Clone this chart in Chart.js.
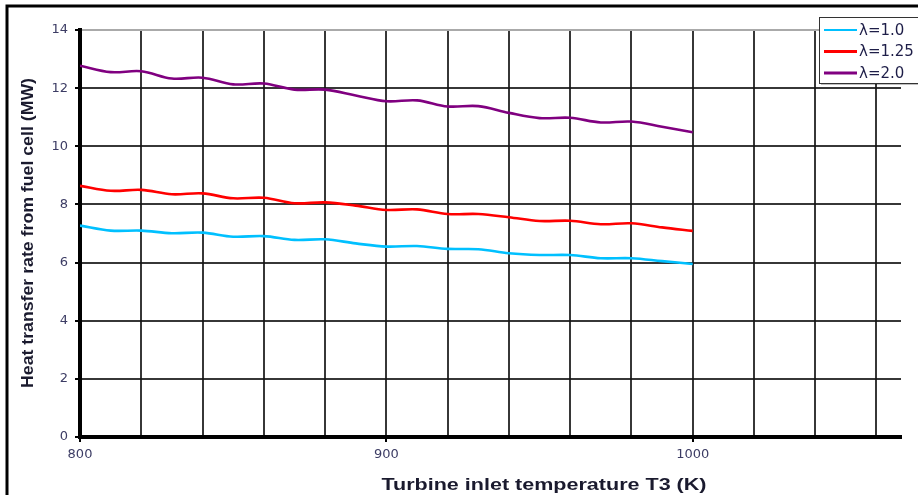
<!DOCTYPE html>
<html>
<head>
<meta charset="utf-8">
<title>Heat transfer rate from fuel cell</title>
<script src="https://cdn.jsdelivr.net/npm/chart.js@4.4.0/dist/chart.umd.min.js"></script>
<style>
    body { margin: 0; background: #ffffff; }
    #chartBox { width: 918px; height: 495px; }
</style>
</head>
<body>
<div id="chartBox"><canvas id="heatChart" width="918" height="495"></canvas></div>
<script>
// Turbine inlet temperature T3 (K)
const temperatures = [800, 810, 820, 830, 840, 850, 860, 870, 880, 890, 900, 910, 920, 930, 940, 950, 960, 970, 980, 990, 1000];

// Heat transfer rate from fuel cell (MW) for each lambda
const lambda10 = [7.27, 7.10, 7.10, 7.01, 7.03, 6.89, 6.91, 6.78, 6.80, 6.66, 6.55, 6.57, 6.47, 6.46, 6.32, 6.26, 6.26, 6.15, 6.15, 6.05, 5.95];
const lambda125 = [8.64, 8.47, 8.50, 8.35, 8.38, 8.21, 8.23, 8.04, 8.07, 7.96, 7.81, 7.83, 7.67, 7.67, 7.56, 7.43, 7.44, 7.32, 7.35, 7.21, 7.09];
const lambda20 = [12.77, 12.55, 12.58, 12.33, 12.36, 12.13, 12.16, 11.95, 11.95, 11.75, 11.55, 11.58, 11.37, 11.38, 11.15, 10.97, 10.98, 10.82, 10.85, 10.67, 10.48];

const seriesLabels = ['λ=1.0', 'λ=1.25', 'λ=2.0'];
const seriesColors = ['#00c0ff', '#ff0000', '#800080'];

// axis ticks
const xGridTicks = [800, 820, 840, 860, 880, 900, 920, 940, 960, 980, 1000, 1020, 1040, 1060];
const xLabelTicks = [800, 900, 1000];
const yTicks = [0, 2, 4, 6, 8, 10, 12, 14];

const xTitle = 'Turbine inlet temperature T3 (K)';
const yTitle = 'Heat transfer rate from fuel cell (MW)';

const tickFont = { family: '"DejaVu Sans", sans-serif', size: 13 };

function toPoints(values) {
    return values.map((v, i) => ({ x: temperatures[i], y: v }));
}

// draw text squeezed/stretched to a given width (the original is stretched sideways)
function drawStretched(ctx, text, cx, cy, width, angle) {
    ctx.save();
    ctx.translate(cx, cy);
    ctx.rotate(angle);
    const w = ctx.measureText(text).width;
    ctx.scale(width / w, 1);
    ctx.fillText(text, 0, 0);
    ctx.restore();
}

// frame, axis titles and legend box
const decorPlugin = {
    id: 'decor',
    beforeDraw(chart) {
        const ctx = chart.ctx;
        ctx.save();
        ctx.fillStyle = '#ffffff';
        ctx.fillRect(0, 0, chart.width, chart.height);
        ctx.strokeStyle = '#000000';
        ctx.lineWidth = 3;
        ctx.beginPath();
        ctx.moveTo(7, chart.height + 2);
        ctx.lineTo(7, 6);
        ctx.lineTo(chart.width + 2, 6);
        ctx.stroke();
        ctx.restore();
    },
    afterDraw(chart) {
        const ctx = chart.ctx;
        ctx.save();

        // axis titles
        ctx.fillStyle = '#1a1a2e';
        ctx.font = 'bold 17px "Liberation Sans", Arial, sans-serif';
        ctx.textAlign = 'center';
        ctx.textBaseline = 'middle';
        drawStretched(ctx, xTitle, 544, 485, 325, 0);
        ctx.font = 'bold 16px "Liberation Sans", Arial, sans-serif';
        drawStretched(ctx, yTitle, 29, 233, 310, -Math.PI / 2);

        // legend
        const bx = 819, by = 17, bw = 110, bh = 66;
        ctx.fillStyle = 'rgba(0,0,0,0.25)';
        ctx.fillRect(bx + 2, by + 2, bw, bh);
        ctx.fillStyle = '#ffffff';
        ctx.fillRect(bx, by, bw, bh);
        ctx.strokeStyle = '#333333';
        ctx.lineWidth = 1;
        ctx.strokeRect(bx + 0.5, by + 0.5, bw, bh);

        ctx.font = '15px "DejaVu Sans", sans-serif';
        ctx.textAlign = 'left';
        chart.data.datasets.forEach((ds, i) => {
            const y = 30 + i * 21.5;
            ctx.strokeStyle = ds.borderColor;
            ctx.lineWidth = i === 0 ? 2 : 3;
            ctx.beginPath();
            ctx.moveTo(824, y);
            ctx.lineTo(857, y);
            ctx.stroke();
            ctx.fillStyle = '#1e1e48';
            ctx.fillText(ds.label, 859, y + 1);
        });
        ctx.restore();
    }
};

const ctx = document.getElementById('heatChart').getContext('2d');

new Chart(ctx, {
    type: 'line',
    data: {
        datasets: [
            { label: seriesLabels[0], data: toPoints(lambda10), borderColor: seriesColors[0], borderWidth: 2.6 },
            { label: seriesLabels[1], data: toPoints(lambda125), borderColor: seriesColors[1], borderWidth: 2.6 },
            { label: seriesLabels[2], data: toPoints(lambda20), borderColor: seriesColors[2], borderWidth: 2.6 }
        ]
    },
    options: {
        responsive: false,
        animation: false,
        devicePixelRatio: 1,
        layout: { padding: { top: 30, right: 17, left: 0, bottom: 0 } },
        elements: {
            point: { radius: 0 },
            line: { tension: 0.35, fill: false }
        },
        plugins: {
            legend: { display: false },
            tooltip: { enabled: false }
        },
        scales: {
            x: {
                type: 'linear',
                min: 800,
                max: 1068,
                afterBuildTicks: scale => {
                    scale.ticks = xGridTicks.map(v => ({ value: v }));
                },
                afterFit: scale => {
                    scale.height = 58;
                    scale.paddingLeft = 0;
                    scale.paddingRight = 0;
                },
                ticks: {
                    autoSkip: false,
                    maxRotation: 0,
                    padding: 5,
                    color: '#3c3c64',
                    font: tickFont,
                    callback: value => xLabelTicks.includes(value) ? String(value) : ''
                },
                grid: {
                    color: 'rgba(20,20,20,0.85)',
                    lineWidth: 2,
                    tickLength: 5,
                    tickWidth: 2,
                    tickColor: c => (c.tick && xLabelTicks.includes(c.tick.value)) ? '#000000' : 'rgba(0,0,0,0)'
                },
                border: { color: '#000000', width: 4 }
            },
            y: {
                min: 0,
                max: 14,
                afterBuildTicks: scale => {
                    scale.ticks = yTicks.map(v => ({ value: v }));
                },
                afterFit: scale => { scale.width = 80; },
                ticks: {
                    padding: 7,
                    color: '#3c3c64',
                    font: tickFont
                },
                grid: {
                    color: c => (c.tick && c.tick.value === 14) ? '#aaaaaa' : 'rgba(20,20,20,0.85)',
                    lineWidth: 2,
                    tickLength: 5,
                    tickWidth: 2,
                    tickColor: '#000000'
                },
                border: { color: '#000000', width: 4 }
            }
        }
    },
    plugins: [decorPlugin]
});
</script>
</body>
</html>
